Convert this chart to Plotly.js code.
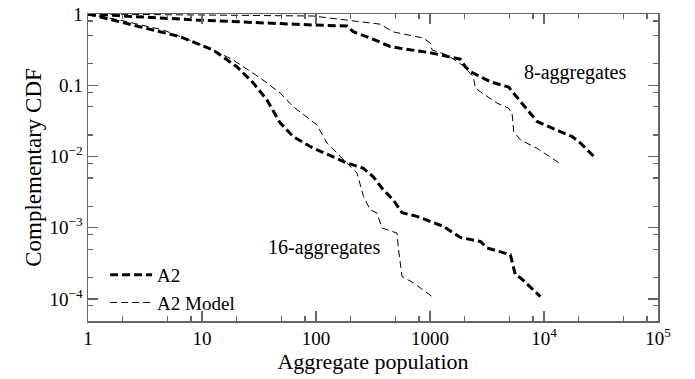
<!DOCTYPE html>
<html>
<head>
<meta charset="utf-8">
<script src="https://cdn.plot.ly/plotly-3.0.1.min.js"></script>
<style>html,body{margin:0;padding:0;background:#fff;}#chart{width:695px;height:379px;}</style>
</head>
<body>
<div id="chart"></div>
<script>
// 8-aggregates, A2 (measured)
const a2_8_x = [1, 9.6, 94.5, 187, 212, 299, 448, 548, 1006, 1410, 1844, 2040, 2260, 3385, 4900, 5385, 7110, 8700, 10650, 17650, 20900, 28300];
const a2_8_y = [1, 0.82, 0.70, 0.68, 0.565, 0.46, 0.35, 0.33, 0.286, 0.252, 0.232, 0.182, 0.155, 0.112, 0.094, 0.078, 0.045, 0.031, 0.0268, 0.019, 0.0154, 0.0095];
// 8-aggregates, A2 Model
const mod_8_x = [1, 94.5, 187, 366, 476, 873, 1006, 1042, 1410, 1910, 2400, 2500, 2766, 3880, 4900, 5250, 5420, 6210, 8700, 14400];
const mod_8_y = [1, 0.937, 0.82, 0.72, 0.56, 0.46, 0.39, 0.313, 0.266, 0.193, 0.132, 0.091, 0.081, 0.056, 0.0476, 0.040, 0.0223, 0.0171, 0.013, 0.0076];
// 16-aggregates, A2 (measured)
const a2_16_x = [1, 1.66, 3.28, 6.42, 12.5, 20.2, 28.1, 37.1, 48.5, 63.1, 94.5, 141.6, 187, 259, 318, 389, 476, 568, 769, 1316, 1844, 2766, 3165, 5070, 5610, 6210, 9290];
const a2_16_y = [1, 0.82, 0.63, 0.48, 0.313, 0.182, 0.108, 0.0622, 0.0296, 0.019, 0.0131, 0.00997, 0.0081, 0.00685, 0.00518, 0.0034, 0.00246, 0.00162, 0.00144, 0.00104, 0.00073, 0.00064, 0.00052, 0.000417, 0.000218, 0.000198, 0.000108];
// 16-aggregates, A2 Model
const mod_16_x = [1, 1.91, 4.55, 11.0, 18.8, 32.3, 48.5, 63.1, 102, 125, 187, 229, 261, 299, 343, 379, 513, 530, 568, 718, 1042];
const mod_16_y = [1, 0.82, 0.597, 0.348, 0.226, 0.127, 0.078, 0.050, 0.0277, 0.0154, 0.00805, 0.00583, 0.00274, 0.00178, 0.0016, 0.00099, 0.00084, 0.00049, 0.000207, 0.000167, 0.000108];

const xTickVals = [1, 10, 100, 1000, 10000, 100000];
const xTickText = ['1', '10', '100', '1000', '10<sup>4</sup>', '10<sup>5</sup>'];
const yTickVals = [1, 0.1, 0.01, 0.001, 0.0001];
const yTickText = ['1', '0.1', '10<sup>\u22122</sup>', '10<sup>\u22123</sup>', '10<sup>\u22124</sup>'];
const minorMult = [2, 5, 8];
const xMinor = [], yMinor = [];
for (let e = 0; e < 5; e++) minorMult.forEach(m => xMinor.push(m * Math.pow(10, e)));
for (let e = -5; e < 0; e++) minorMult.forEach(m => yMinor.push(m * Math.pow(10, e)));

const SERIF = '"Liberation Serif", "Times New Roman", Times, serif';
const thick = {color: '#000', width: 3, dash: '8px,4px'};
const thin = {color: '#000', width: 1, dash: '7px,4px'};

const data = [
  {x: a2_8_x, y: a2_8_y, mode: 'lines', line: thick, name: 'A2', legendgroup: 'a2', showlegend: true},
  {x: mod_8_x, y: mod_8_y, mode: 'lines', line: thin, name: 'A2 Model', legendgroup: 'mod', showlegend: true},
  {x: a2_16_x, y: a2_16_y, mode: 'lines', line: thick, name: 'A2', legendgroup: 'a2', showlegend: false},
  {x: mod_16_x, y: mod_16_y, mode: 'lines', line: thin, name: 'A2 Model', legendgroup: 'mod', showlegend: false}
];

const axisCommon = {
  showgrid: false, zeroline: false, showline: true, linecolor: '#666', linewidth: 1.5,
  mirror: 'ticks', ticks: 'inside', ticklen: 10, tickwidth: 1.2, tickcolor: '#666',
  tickfont: {family: SERIF, size: 19, color: '#000'},
  tickmode: 'array'
};

const layout = {
  width: 695, height: 379,
  margin: {l: 88, r: 37, t: 14, b: 58},
  paper_bgcolor: '#fff', plot_bgcolor: '#fff',
  font: {family: SERIF, color: '#000'},
  xaxis: Object.assign({}, axisCommon, {
    type: 'log', range: [0, 5], tickvals: xTickVals, ticktext: xTickText,
    minor: {tickmode: 'array', tickvals: xMinor, ticks: 'inside', ticklen: 5, tickcolor: '#666', tickwidth: 1.2},
    title: {text: 'Aggregate population', font: {size: 22, family: SERIF}, standoff: 0}
  }),
  yaxis: Object.assign({}, axisCommon, {
    type: 'log', range: [-4.31, 0], tickvals: yTickVals, ticktext: yTickText,
    minor: {tickmode: 'array', tickvals: yMinor, ticks: 'inside', ticklen: 5, tickcolor: '#666', tickwidth: 1.2},
    title: {text: 'Complementary CDF', font: {size: 23, family: SERIF}, standoff: 1}
  }),
  legend: {
    x: 0.03, y: -0.003, xanchor: 'left', yanchor: 'bottom', bgcolor: 'rgba(0,0,0,0)',
    font: {size: 19, family: SERIF}, tracegroupgap: 0, itemwidth: 42
  },
  annotations: [
    {x: Math.log10(18880), y: Math.log10(0.149), xref: 'x', yref: 'y', text: '8-aggregates', showarrow: false,
     font: {size: 20, family: SERIF}},
    {x: Math.log10(118), y: Math.log10(0.000522), xref: 'x', yref: 'y', text: '16-aggregates', showarrow: false,
     font: {size: 20, family: SERIF}}
  ],
  showlegend: true
};

Plotly.newPlot('chart', data, layout, {staticPlot: true, displayModeBar: false});
</script>
</body>
</html>
